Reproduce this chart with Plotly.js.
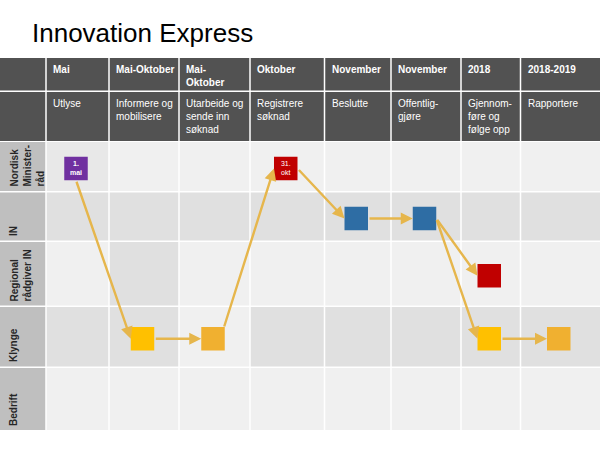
<!DOCTYPE html>
<html><head><meta charset="utf-8">
<script src="https://cdn.plot.ly/plotly-3.0.1.min.js"></script>
<style>html,body{margin:0;padding:0;background:#fff}#chart{width:600px;height:450px}</style>
</head><body><div id="chart"></div>
<script>
// ---------- data ----------
const chartTitle = 'Innovation Express';
const periods = ['Mai', 'Mai-Oktober', 'Mai-<br>Oktober', 'Oktober', 'November', 'November', '2018', '2018-2019'];
const activities = ['Utlyse', 'Informere og<br>mobilisere', 'Utarbeide og<br>sende inn<br>søknad', 'Registrere<br>søknad',
                    'Beslutte', 'Offentlig-<br>gjøre', 'Gjennom-<br>føre og<br>følge opp', 'Rapportere'];
const lanes = ['Nordisk<br>Minister-<br>råd', 'IN', 'Regional<br>rådgiver IN', 'Klynge', 'Bedrift'];
// process steps: which period column and which lane each box sits in
const stepColumn = [0, 1, 2, 3, 4, 5, 6, 6, 7];
const stepLane   = [0, 3, 3, 0, 1, 1, 2, 3, 3];
const stepLabel  = ['<b>1.<br>mai</b>', '', '', '31.<br>okt', '', '', '', '', ''];
// flow arrows between steps
const arrowFrom = [0, 1, 2, 3, 4, 5, 5, 7];
const arrowTo   = [1, 2, 3, 4, 5, 6, 7, 8];
const arrowTailSide = ['bottom', 'right', 'topright', 'right', 'right', 'right', 'right', 'right'];

// ---------- styles / geometry ----------
const stepColor = ['#7030a0', '#ffc000', '#f0b030', '#c00000', '#2e6da4', '#2e6da4', '#c00000', '#ffc000', '#f0b030'];
const colEdges = [0, 46, 109, 179, 250, 324.5, 391, 461, 520.5, 600];
const headTop = 58, head1Bottom = 90.5, head2Top = 92, head2Bottom = 141;
const laneEdges = [[142, 191], [192.5, 240.5], [242, 305.5], [307, 366.5], [368, 430]];
const LIGHT = '#f0f0f0', DARK = '#e0e0e0', HEAD = '#525252', LABEL = '#bfbfbf';
const laneFill = [LIGHT, DARK, LIGHT, DARK, LIGHT];
const cellOverride = {'0,0': '#e8e8e8', '2,1': DARK, '3,2': LIGHT};
const gap = 0.75, boxSize = 23.5;
const FONT = 'Liberation Sans, Arial, sans-serif';

const shapes = [];
function rect(x0, x1, y0, y1, color) {
  shapes.push({type: 'rect', xref: 'x', yref: 'y', x0: x0, x1: x1, y0: y0, y1: y1,
               fillcolor: color, line: {width: 0}, layer: 'below'});
}
const nCols = periods.length;
// header rows
for (let c = 0; c <= nCols; c++) {
  const x0 = colEdges[c] + (c === 0 ? 0 : gap), x1 = colEdges[c + 1] - (c === nCols ? 0 : gap);
  rect(x0, x1, headTop, head1Bottom, HEAD);
  rect(x0, x1, head2Top, head2Bottom, HEAD);
}
// lanes
lanes.forEach((ln, r) => {
  const [y0, y1] = laneEdges[r];
  rect(colEdges[0], colEdges[1] - gap, y0, y1, LABEL);
  for (let c = 0; c < nCols; c++) {
    const fill = cellOverride[r + ',' + c] || laneFill[r];
    rect(colEdges[c + 1] + gap, colEdges[c + 2] - (c === nCols - 1 ? 0 : gap), y0, y1, fill);
  }
});

const annotations = [];
periods.forEach((p, c) => {
  annotations.push({xref: 'x', yref: 'y', x: colEdges[c + 1] + 5, y: headTop + 4, xanchor: 'left', yanchor: 'top',
    text: p, showarrow: false, align: 'left', font: {family: FONT, size: 10, color: '#ffffff', weight: 'bold'}});
});
activities.forEach((a, c) => {
  annotations.push({xref: 'x', yref: 'y', x: colEdges[c + 1] + 5, y: head2Top + 4, xanchor: 'left', yanchor: 'top',
    text: a, showarrow: false, align: 'left', font: {family: FONT, size: 10, color: '#ffffff'}});
});
lanes.forEach((ln, r) => {
  annotations.push({xref: 'x', yref: 'y', x: 6, y: laneEdges[r][1] - 2, xanchor: 'left', yanchor: 'bottom',
    textangle: -90, text: ln, showarrow: false, align: 'left',
    font: {family: FONT, size: 10, color: '#262626', weight: 'bold'}});
});

// step box centres from column/lane
const sx = stepColumn.map(c => (colEdges[c + 1] + colEdges[c + 2]) / 2 - 1.5);
const sy = stepLane.map(r => (laneEdges[r][0] + laneEdges[r][1]) / 2 + 2);
const h = boxSize / 2;
arrowFrom.forEach((s, k) => {
  const t = arrowTo[k];
  let tx = sx[s] + h, ty = sy[s];
  if (arrowTailSide[k] === 'bottom') { tx = sx[s]; ty = sy[s] + h; }
  if (arrowTailSide[k] === 'topright') { tx = sx[s] + h - 1; ty = sy[s] - h + 1; }
  annotations.push({xref: 'x', yref: 'y', axref: 'x', ayref: 'y', x: sx[t] - h, y: sy[t], ax: tx, ay: ty,
    text: '', showarrow: true, arrowhead: 2, arrowsize: 1, arrowwidth: 2.4, arrowcolor: '#e6b64c', standoff: 0});
});

const trace = {
  type: 'scatter', mode: 'markers+text', x: sx, y: sy, text: stepLabel, textposition: 'middle center',
  textfont: {family: FONT, size: 7, color: '#ffffff'}, hoverinfo: 'skip', cliponaxis: false,
  marker: {symbol: 'square', size: boxSize, color: stepColor, line: {width: 0}}
};

const layout = {
  width: 600, height: 450, margin: {l: 0, r: 0, t: 0, b: 0},
  paper_bgcolor: '#ffffff', plot_bgcolor: '#ffffff', showlegend: false,
  title: {text: chartTitle, x: 32 / 600, xanchor: 'left', xref: 'container', y: 1 - 33 / 450, yanchor: 'middle', yref: 'container',
          font: {family: FONT, size: 26, color: '#000000'}},
  xaxis: {range: [0, 600], visible: false, fixedrange: true},
  yaxis: {range: [450, 0], visible: false, fixedrange: true},
  shapes: shapes, annotations: annotations
};
Plotly.newPlot('chart', [trace], layout, {displayModeBar: false, staticPlot: true});
</script></body></html>
